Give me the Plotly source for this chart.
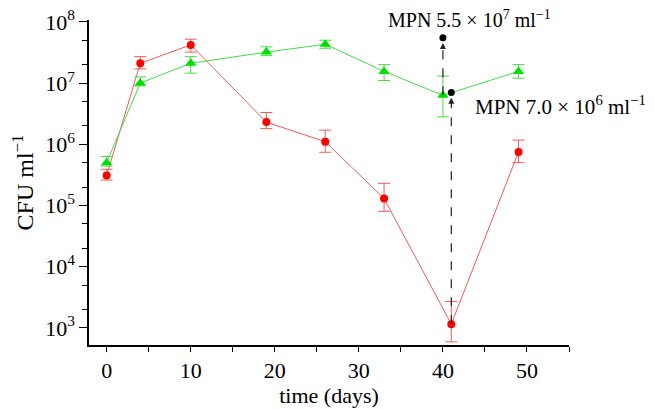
import numpy as np
import plotly.graph_objects as go

# ---- data ----
red_days = [0, 4, 10, 19, 26, 33, 41, 49]
red_cfu = [3.1e5, 2.1e7, 4.2e7, 2.3e6, 1.1e6, 1.3e5, 1.15e3, 7.5e5]
red_hi = [3.9e5, 2.7e7, 5.2e7, 3.3e6, 1.7e6, 2.3e5, 2.7e3, 1.17e6]
red_lo = [2.6e5, 1.7e7, 3.2e7, 1.8e6, 7.4e5, 8.0e4, 5.9e2, 5.0e5]

green_days = [0, 4, 10, 19, 26, 33, 40, 49]
green_cfu = [5.0e5, 1.0e7, 2.1e7, 3.2e7, 4.3e7, 1.55e7, 6.3e6, 1.55e7]
green_hi = [6.3e5, 1.26e7, 2.7e7, 3.9e7, 5.0e7, 2.0e7, 1.3e7, 2.0e7]
green_lo = [4.4e5, 9.0e6, 1.45e7, 2.8e7, 3.7e7, 1.1e7, 2.8e6, 1.2e7]

mpn_days = [40, 41]
mpn_vals = [5.5e7, 7.0e6]
mpn_from = [6.3e6, 1.15e3]   # arrow start (series point below)
mpn_labels = ["MPN 5.5 × 10<sup>7</sup> ml<sup>−1</sup>",
              "MPN 7.0 × 10<sup>6</sup> ml<sup>−1</sup>"]

y_tickvals = [1e3, 1e4, 1e5, 1e6, 1e7, 1e8]
y_ticktext = ["10<sup>3</sup>", "10<sup>4</sup>", "10<sup>5</sup>",
              "10<sup>6</sup>", "10<sup>7</sup>", "10<sup>8</sup>"]
x_tickvals = [0, 10, 20, 30, 40, 50]

FONT = "Liberation Serif"

def plus(v, hi):
    return [h - x for x, h in zip(v, hi)]

def minus(v, lo):
    return [x - l for x, l in zip(v, lo)]

fig = go.Figure()

fig.add_trace(go.Scatter(
    x=red_days, y=red_cfu, mode="lines+markers",
    line=dict(color="#f25a5a", width=1),
    marker=dict(color="#ff0000", size=8, symbol="circle"),
    error_y=dict(type="data", symmetric=False, array=plus(red_cfu, red_hi),
                 arrayminus=minus(red_cfu, red_lo), color="#f25a5a",
                 thickness=1, width=6),
    showlegend=False))

fig.add_trace(go.Scatter(
    x=green_days, y=green_cfu, mode="lines+markers",
    line=dict(color="#44dd44", width=1),
    marker=dict(color="#00e000", size=10, symbol="triangle-up"),
    error_y=dict(type="data", symmetric=False, array=plus(green_cfu, green_hi),
                 arrayminus=minus(green_cfu, green_lo), color="#44dd44",
                 thickness=1, width=6),
    showlegend=False))

# dashed arrows
for d, v0, v1 in zip(mpn_days, mpn_from, mpn_vals):
    fig.add_trace(go.Scatter(
        x=[d, d], y=[v0, v1 / 1.3], mode="lines",
        line=dict(color="#222222", width=1.2, dash="dash"),
        showlegend=False, hoverinfo="skip"))
    fig.add_annotation(x=d, y=np.log10(v1 / 1.22), ax=d, ay=np.log10(v1 / 1.5),
                       xref="x", yref="y", axref="x", ayref="y",
                       showarrow=True, arrowhead=2, arrowsize=1, arrowwidth=1.2,
                       arrowcolor="#222222", text="")

fig.add_trace(go.Scatter(
    x=mpn_days, y=mpn_vals, mode="markers",
    marker=dict(color="black", size=7), showlegend=False))

fig.add_annotation(x=33.2, y=1.004, xref="x", yref="paper", text=mpn_labels[0],
                   showarrow=False, xanchor="left", yanchor="middle",
                   font=dict(family=FONT, size=20, color="black"))
fig.add_annotation(x=43.6, y=6.64, xref="x", yref="y", text=mpn_labels[1],
                   showarrow=False, xanchor="left", yanchor="middle",
                   font=dict(family=FONT, size=21, color="black"))

fig.update_layout(
    width=646, height=402,
    margin=dict(l=81, r=85, t=12, b=65),
    paper_bgcolor="white", plot_bgcolor="white",
    font=dict(family=FONT, size=22, color="black"),
    xaxis=dict(range=[-2.1, 55], tickvals=x_tickvals,
               ticks="outside", ticklen=5, tickcolor="black",
               showline=True, linecolor="black", linewidth=1.5,
               showgrid=False, zeroline=False, automargin=False,
               ticklabeloverflow="allow",
               minor=dict(tickvals=[5, 15, 25, 35, 45, 55], ticks="outside",
                          ticklen=5, tickcolor="black"),
               title=dict(text="time (days)", standoff=4, font=dict(size=22)),
               tickfont=dict(size=22)),
    yaxis=dict(type="log", range=[2.72, 8.03],
               tickvals=y_tickvals, ticktext=y_ticktext,
               ticks="outside", ticklen=8, tickcolor="black",
               showline=True, linecolor="black", linewidth=1.5,
               showgrid=False, zeroline=False, automargin=False,
               ticklabeloverflow="allow",
               minor=dict(ticks="outside", ticklen=5, tickcolor="black",
                          showgrid=False),
               title=dict(text="CFU ml<sup>−1</sup>", standoff=12, font=dict(size=24)),
               tickfont=dict(size=22)),
)

fig.write_html("out.html")
